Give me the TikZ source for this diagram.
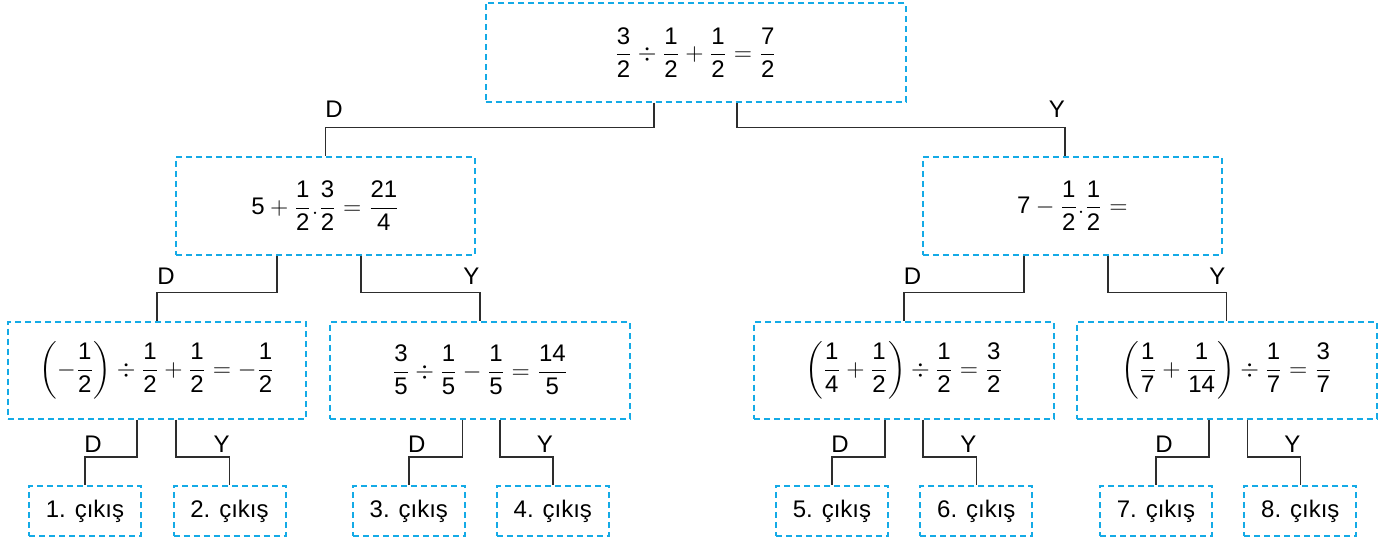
\documentclass[tikz,border=0pt]{standalone}
\usepackage{amsmath}
\usepackage{fontspec}
\setmainfont{Liberation Sans}
\usepackage{tikz}
\usetikzlibrary{positioning}
\definecolor{boxblue}{RGB}{20,170,230}
\definecolor{linegray}{RGB}{45,45,45}
% rakamlar metin fontunda
\newcommand{\qn}[1]{\text{#1}}
\newcommand{\qf}[2]{\dfrac{\text{#1}}{\text{#2}}}
\tikzset{
    % kesik mavi kutular
    bluebox/.style={
        rectangle,
        draw=boxblue,
        line width=1pt,
        dash pattern=on 3pt off 2pt,
        inner sep=0pt,
        font=\fontsize{12}{14}\selectfont
    },
    leafbox/.style={
        bluebox,
        minimum width=56pt,
        minimum height=25pt,
        font=\fontsize{12}{14}\selectfont
    },
    blackline/.style={
        line width=0.75pt,
        linegray
    },
    dylabel/.style={
        anchor=south,
        inner sep=0pt,
        black,
        font=\fontsize{12}{14}\selectfont
    }
}

\begin{document}
\begin{tikzpicture}[x=0.5pt, y=-0.5pt]
            \useasboundingbox (0,0) rectangle (1379,542);

            % kutular
            \node[bluebox, minimum width=210pt, minimum height=49.4pt] (top) at (695.6,52.3)
                {$\qf{3}{2}\div\qf{1}{2}+\qf{1}{2}=\qf{7}{2}$};

            \node[bluebox, minimum width=149.5pt, minimum height=49pt] (l1a) at (325.5,205.8)
                {$\qn{5}+\qf{1}{2}.\qf{3}{2}=\qf{21}{4}$};
            \node[bluebox, minimum width=149.5pt, minimum height=49pt] (l1b) at (1072.3,205.8)
                {$\qn{7}-\qf{1}{2}.\qf{1}{2}=$};

            \node[bluebox, minimum width=149pt, minimum height=48.5pt] (l2a) at (157,370)
                {$\left(-\qf{1}{2}\right)\div\qf{1}{2}+\qf{1}{2}=-\qf{1}{2}$};
            \node[bluebox, minimum width=150pt, minimum height=48.5pt] (l2b) at (480,370)
                {$\qf{3}{5}\div\qf{1}{5}-\qf{1}{5}=\qf{14}{5}$};
            \node[bluebox, minimum width=150pt, minimum height=48.5pt] (l2c) at (904,370)
                {$\left(\qf{1}{4}+\qf{1}{2}\right)\div\qf{1}{2}=\qf{3}{2}$};
            \node[bluebox, minimum width=150pt, minimum height=48.5pt] (l2d) at (1226.7,370)
                {$\left(\qf{1}{7}+\qf{1}{14}\right)\div\qf{1}{7}=\qf{3}{7}$};

            % cikislar
            \node[leafbox] (out1) at (85,511) {1. çıkış};
            \node[leafbox] (out2) at (229.5,511) {2. çıkış};
            \node[leafbox] (out3) at (408.8,511) {3. çıkış};
            \node[leafbox] (out4) at (552.8,511) {4. çıkış};
            \node[leafbox] (out5) at (832,511) {5. çıkış};
            \node[leafbox] (out6) at (976.3,511) {6. çıkış};
            \node[leafbox] (out7) at (1156,511) {7. çıkış};
            \node[leafbox] (out8) at (1300.3,511) {8. çıkış};

            % baglantilar
            \draw[blackline] ([xshift=-20.8pt]top.south) -- ++(0,-12.5pt)
                -| node[pos=0.5, dylabel, xshift=4.3pt, yshift=4.7pt] (d0) {D} (l1a.north);
            \draw[blackline] ([xshift=20.7pt]top.south) -- ++(0,-12.5pt)
                -| node[pos=0.5, dylabel, xshift=-4.1pt, yshift=4.7pt] (y0) {Y} ([xshift=-3.6pt]l1b.north);

            \draw[blackline] ([xshift=-24.2pt]l1a.south) -- ++(0,-18.4pt)
                -| node[pos=0.5, dylabel, xshift=4.5pt, yshift=3.5pt] (d1) {D} (l2a.north);
            \draw[blackline] ([xshift=17.8pt]l1a.south) -- ++(0,-18.4pt)
                -| node[pos=0.5, dylabel, xshift=-4.3pt, yshift=3.5pt] (y1) {Y} (l2b.north);
            \draw[blackline] ([xshift=-24.2pt]l1b.south) -- ++(0,-18.4pt)
                -| node[pos=0.5, dylabel, xshift=4.2pt, yshift=3.5pt] (d2) {D} (l2c.north);
            \draw[blackline] ([xshift=17.8pt]l1b.south) -- ++(0,-18.4pt)
                -| node[pos=0.5, dylabel, xshift=-4.7pt, yshift=3.5pt] (y2) {Y} (l2d.north);

            \draw[blackline] ([xshift=-10pt]l2a.south) -- ++(0,-18.7pt)
                -| node[pos=0.5, dylabel, xshift=4pt, yshift=2pt] (d3) {D} (out1.north);
            \draw[blackline] ([xshift=9.5pt]l2a.south) -- ++(0,-18.7pt)
                -| node[pos=0.5, dylabel, xshift=-4pt, yshift=2pt] (y3) {Y} (out2.north);
            \draw[blackline] ([xshift=-8.8pt]l2b.south) -- ++(0,-18.7pt)
                -| node[pos=0.5, dylabel, xshift=4pt, yshift=2pt] (d4) {D} (out3.north);
            \draw[blackline] ([xshift=10pt]l2b.south) -- ++(0,-18.7pt)
                -| node[pos=0.5, dylabel, xshift=-4pt, yshift=2pt] (y4) {Y} (out4.north);
            \draw[blackline] ([xshift=-9.5pt]l2c.south) -- ++(0,-18.7pt)
                -| node[pos=0.5, dylabel, xshift=4pt, yshift=2pt] (d5) {D} (out5.north);
            \draw[blackline] ([xshift=9.5pt]l2c.south) -- ++(0,-18.7pt)
                -| node[pos=0.5, dylabel, xshift=-4pt, yshift=2pt] (y5) {Y} (out6.north);
            \draw[blackline] ([xshift=-8.8pt]l2d.south) -- ++(0,-18.7pt)
                -| node[pos=0.5, dylabel, xshift=4pt, yshift=2pt] (d6) {D} (out7.north);
            \draw[blackline] ([xshift=10.3pt]l2d.south) -- ++(0,-18.7pt)
                -| node[pos=0.5, dylabel, xshift=-4pt, yshift=2pt] (y6) {Y} (out8.north);
\end{tikzpicture}
\end{document}
